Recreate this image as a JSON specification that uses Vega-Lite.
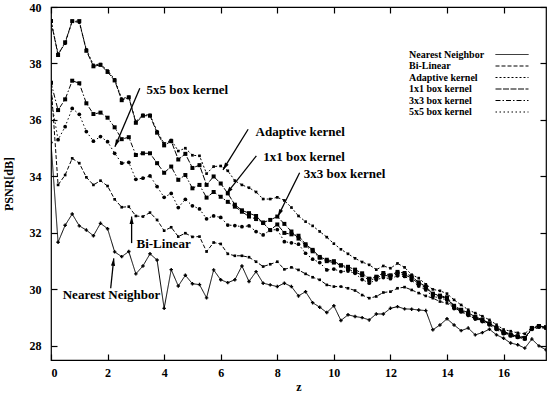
{
"$schema":"https://vega.github.io/schema/vega-lite/v6.json",
"width":495,"height":353,
"autosize":{"type":"none"},
"padding":{"left":51,"top":7,"right":8,"bottom":35},
"background":"#ffffff",
"config":{
"view":{"stroke":"#000","strokeWidth":1.2},
"axis":{"domain":false,"grid":false,"tickColor":"#000","tickWidth":1.2,"tickSize":6,"offset":-6,"labelFont":"Liberation Serif","labelFontWeight":"bold","labelFontSize":12,"labelColor":"#000","titleFont":"Liberation Serif","titleFontWeight":"bold","titleColor":"#000","titleFontSize":12}
},
"datasets":{
"curves":[
{"method":"Nearest Neighbor","z":0,"psnr":35.2},{"method":"Nearest Neighbor","z":0.25,"psnr":31.67},{"method":"Nearest Neighbor","z":0.5,"psnr":32.27},{"method":"Nearest Neighbor","z":0.75,"psnr":32.67},{"method":"Nearest Neighbor","z":1,"psnr":32.25},{"method":"Nearest Neighbor","z":1.25,"psnr":32.1},{"method":"Nearest Neighbor","z":1.5,"psnr":31.9},{"method":"Nearest Neighbor","z":1.75,"psnr":32.34},{"method":"Nearest Neighbor","z":2,"psnr":32.15},{"method":"Nearest Neighbor","z":2.25,"psnr":31.33},{"method":"Nearest Neighbor","z":2.5,"psnr":31.16},{"method":"Nearest Neighbor","z":2.75,"psnr":31.34},{"method":"Nearest Neighbor","z":3,"psnr":30.55},{"method":"Nearest Neighbor","z":3.25,"psnr":30.83},{"method":"Nearest Neighbor","z":3.5,"psnr":31.26},{"method":"Nearest Neighbor","z":3.75,"psnr":31.04},{"method":"Nearest Neighbor","z":4,"psnr":29.33},{"method":"Nearest Neighbor","z":4.25,"psnr":30.7},{"method":"Nearest Neighbor","z":4.5,"psnr":30.12},{"method":"Nearest Neighbor","z":4.75,"psnr":30.5},{"method":"Nearest Neighbor","z":5,"psnr":30.2},{"method":"Nearest Neighbor","z":5.25,"psnr":30.17},{"method":"Nearest Neighbor","z":5.5,"psnr":29.7},{"method":"Nearest Neighbor","z":5.75,"psnr":30.69},{"method":"Nearest Neighbor","z":6,"psnr":30.34},{"method":"Nearest Neighbor","z":6.25,"psnr":30.24},{"method":"Nearest Neighbor","z":6.5,"psnr":30.34},{"method":"Nearest Neighbor","z":6.75,"psnr":30.83},{"method":"Nearest Neighbor","z":7,"psnr":30.28},{"method":"Nearest Neighbor","z":7.25,"psnr":30.63},{"method":"Nearest Neighbor","z":7.5,"psnr":30.22},{"method":"Nearest Neighbor","z":7.75,"psnr":30.16},{"method":"Nearest Neighbor","z":8,"psnr":30.1},{"method":"Nearest Neighbor","z":8.25,"psnr":30.22},{"method":"Nearest Neighbor","z":8.5,"psnr":30.1},{"method":"Nearest Neighbor","z":8.75,"psnr":29.77},{"method":"Nearest Neighbor","z":9,"psnr":29.92},{"method":"Nearest Neighbor","z":9.25,"psnr":29.53},{"method":"Nearest Neighbor","z":9.5,"psnr":29.37},{"method":"Nearest Neighbor","z":9.75,"psnr":29.18},{"method":"Nearest Neighbor","z":10,"psnr":29.42},{"method":"Nearest Neighbor","z":10.25,"psnr":28.9},{"method":"Nearest Neighbor","z":10.5,"psnr":29.1},{"method":"Nearest Neighbor","z":10.75,"psnr":29.04},{"method":"Nearest Neighbor","z":11,"psnr":29.0},{"method":"Nearest Neighbor","z":11.25,"psnr":28.92},{"method":"Nearest Neighbor","z":11.5,"psnr":29.13},{"method":"Nearest Neighbor","z":11.75,"psnr":29.13},{"method":"Nearest Neighbor","z":12,"psnr":29.33},{"method":"Nearest Neighbor","z":12.25,"psnr":29.39},{"method":"Nearest Neighbor","z":12.5,"psnr":29.31},{"method":"Nearest Neighbor","z":12.75,"psnr":29.3},{"method":"Nearest Neighbor","z":13,"psnr":29.27},{"method":"Nearest Neighbor","z":13.25,"psnr":29.25},{"method":"Nearest Neighbor","z":13.5,"psnr":28.57},{"method":"Nearest Neighbor","z":13.75,"psnr":28.74},{"method":"Nearest Neighbor","z":14,"psnr":28.96},{"method":"Nearest Neighbor","z":14.25,"psnr":28.74},{"method":"Nearest Neighbor","z":14.5,"psnr":28.54},{"method":"Nearest Neighbor","z":14.75,"psnr":28.63},{"method":"Nearest Neighbor","z":15,"psnr":28.39},{"method":"Nearest Neighbor","z":15.25,"psnr":28.47},{"method":"Nearest Neighbor","z":15.5,"psnr":28.59},{"method":"Nearest Neighbor","z":15.75,"psnr":28.39},{"method":"Nearest Neighbor","z":16,"psnr":28.27},{"method":"Nearest Neighbor","z":16.25,"psnr":28.1},{"method":"Nearest Neighbor","z":16.5,"psnr":28.04},{"method":"Nearest Neighbor","z":16.75,"psnr":27.92},{"method":"Nearest Neighbor","z":17,"psnr":28.24},{"method":"Nearest Neighbor","z":17.25,"psnr":28.0},{"method":"Nearest Neighbor","z":17.5,"psnr":27.86},
{"method":"Bi-Linear","z":0,"psnr":37.3},{"method":"Bi-Linear","z":0.25,"psnr":33.7},{"method":"Bi-Linear","z":0.5,"psnr":34.05},{"method":"Bi-Linear","z":0.75,"psnr":34.64},{"method":"Bi-Linear","z":1,"psnr":34.47},{"method":"Bi-Linear","z":1.25,"psnr":33.97},{"method":"Bi-Linear","z":1.5,"psnr":33.7},{"method":"Bi-Linear","z":1.75,"psnr":33.85},{"method":"Bi-Linear","z":2,"psnr":33.66},{"method":"Bi-Linear","z":2.25,"psnr":33.19},{"method":"Bi-Linear","z":2.5,"psnr":32.91},{"method":"Bi-Linear","z":2.75,"psnr":32.93},{"method":"Bi-Linear","z":3,"psnr":32.6},{"method":"Bi-Linear","z":3.25,"psnr":32.58},{"method":"Bi-Linear","z":3.5,"psnr":32.72},{"method":"Bi-Linear","z":3.75,"psnr":32.46},{"method":"Bi-Linear","z":4,"psnr":32.08},{"method":"Bi-Linear","z":4.25,"psnr":32.2},{"method":"Bi-Linear","z":4.5,"psnr":31.87},{"method":"Bi-Linear","z":4.75,"psnr":31.99},{"method":"Bi-Linear","z":5,"psnr":31.86},{"method":"Bi-Linear","z":5.25,"psnr":31.87},{"method":"Bi-Linear","z":5.5,"psnr":31.34},{"method":"Bi-Linear","z":5.75,"psnr":31.66},{"method":"Bi-Linear","z":6,"psnr":31.61},{"method":"Bi-Linear","z":6.25,"psnr":31.26},{"method":"Bi-Linear","z":6.5,"psnr":31.19},{"method":"Bi-Linear","z":6.75,"psnr":31.19},{"method":"Bi-Linear","z":7,"psnr":31.14},{"method":"Bi-Linear","z":7.25,"psnr":30.98},{"method":"Bi-Linear","z":7.5,"psnr":30.81},{"method":"Bi-Linear","z":7.75,"psnr":30.89},{"method":"Bi-Linear","z":8,"psnr":30.98},{"method":"Bi-Linear","z":8.25,"psnr":30.71},{"method":"Bi-Linear","z":8.5,"psnr":30.78},{"method":"Bi-Linear","z":8.75,"psnr":30.69},{"method":"Bi-Linear","z":9,"psnr":30.55},{"method":"Bi-Linear","z":9.25,"psnr":30.43},{"method":"Bi-Linear","z":9.5,"psnr":30.34},{"method":"Bi-Linear","z":9.75,"psnr":30.16},{"method":"Bi-Linear","z":10,"psnr":30.1},{"method":"Bi-Linear","z":10.25,"psnr":30.1},{"method":"Bi-Linear","z":10.5,"psnr":30.04},{"method":"Bi-Linear","z":10.75,"psnr":29.96},{"method":"Bi-Linear","z":11,"psnr":29.8},{"method":"Bi-Linear","z":11.25,"psnr":29.69},{"method":"Bi-Linear","z":11.5,"psnr":29.75},{"method":"Bi-Linear","z":11.75,"psnr":29.89},{"method":"Bi-Linear","z":12,"psnr":29.92},{"method":"Bi-Linear","z":12.25,"psnr":30.04},{"method":"Bi-Linear","z":12.5,"psnr":30.08},{"method":"Bi-Linear","z":12.75,"psnr":29.98},{"method":"Bi-Linear","z":13,"psnr":29.87},{"method":"Bi-Linear","z":13.25,"psnr":29.77},{"method":"Bi-Linear","z":13.5,"psnr":29.69},{"method":"Bi-Linear","z":13.75,"psnr":29.57},{"method":"Bi-Linear","z":14,"psnr":29.51},{"method":"Bi-Linear","z":14.25,"psnr":29.36},{"method":"Bi-Linear","z":14.5,"psnr":29.21},{"method":"Bi-Linear","z":14.75,"psnr":29.1},{"method":"Bi-Linear","z":15,"psnr":28.94},{"method":"Bi-Linear","z":15.25,"psnr":28.92},{"method":"Bi-Linear","z":15.5,"psnr":28.8},{"method":"Bi-Linear","z":15.75,"psnr":28.66},{"method":"Bi-Linear","z":16,"psnr":28.51},{"method":"Bi-Linear","z":16.25,"psnr":28.42},{"method":"Bi-Linear","z":16.5,"psnr":28.36},{"method":"Bi-Linear","z":16.75,"psnr":28.31},{"method":"Bi-Linear","z":17,"psnr":28.57},{"method":"Bi-Linear","z":17.25,"psnr":28.65},{"method":"Bi-Linear","z":17.5,"psnr":28.62},
{"method":"Adaptive kernel","z":0,"psnr":39.5},{"method":"Adaptive kernel","z":0.25,"psnr":38.35},{"method":"Adaptive kernel","z":0.5,"psnr":38.7},{"method":"Adaptive kernel","z":0.75,"psnr":39.5},{"method":"Adaptive kernel","z":1,"psnr":39.45},{"method":"Adaptive kernel","z":1.25,"psnr":38.5},{"method":"Adaptive kernel","z":1.5,"psnr":37.95},{"method":"Adaptive kernel","z":1.75,"psnr":37.98},{"method":"Adaptive kernel","z":2,"psnr":37.75},{"method":"Adaptive kernel","z":2.25,"psnr":37.44},{"method":"Adaptive kernel","z":2.5,"psnr":36.75},{"method":"Adaptive kernel","z":2.75,"psnr":36.82},{"method":"Adaptive kernel","z":3,"psnr":35.94},{"method":"Adaptive kernel","z":3.25,"psnr":36.18},{"method":"Adaptive kernel","z":3.5,"psnr":36.18},{"method":"Adaptive kernel","z":3.75,"psnr":35.6},{"method":"Adaptive kernel","z":4,"psnr":35.17},{"method":"Adaptive kernel","z":4.25,"psnr":35.29},{"method":"Adaptive kernel","z":4.5,"psnr":34.9},{"method":"Adaptive kernel","z":4.75,"psnr":35.0},{"method":"Adaptive kernel","z":5,"psnr":34.75},{"method":"Adaptive kernel","z":5.25,"psnr":34.73},{"method":"Adaptive kernel","z":5.5,"psnr":34.1},{"method":"Adaptive kernel","z":5.75,"psnr":34.35},{"method":"Adaptive kernel","z":6,"psnr":34.37},{"method":"Adaptive kernel","z":6.25,"psnr":34.2},{"method":"Adaptive kernel","z":6.5,"psnr":33.85},{"method":"Adaptive kernel","z":6.75,"psnr":33.7},{"method":"Adaptive kernel","z":7,"psnr":33.6},{"method":"Adaptive kernel","z":7.25,"psnr":33.45},{"method":"Adaptive kernel","z":7.5,"psnr":33.2},{"method":"Adaptive kernel","z":7.75,"psnr":33.2},{"method":"Adaptive kernel","z":8,"psnr":33.26},{"method":"Adaptive kernel","z":8.25,"psnr":33.15},{"method":"Adaptive kernel","z":8.5,"psnr":32.9},{"method":"Adaptive kernel","z":8.75,"psnr":32.6},{"method":"Adaptive kernel","z":9,"psnr":32.4},{"method":"Adaptive kernel","z":9.25,"psnr":32.25},{"method":"Adaptive kernel","z":9.5,"psnr":32.05},{"method":"Adaptive kernel","z":9.75,"psnr":31.85},{"method":"Adaptive kernel","z":10,"psnr":31.62},{"method":"Adaptive kernel","z":10.25,"psnr":31.42},{"method":"Adaptive kernel","z":10.5,"psnr":31.26},{"method":"Adaptive kernel","z":10.75,"psnr":31.1},{"method":"Adaptive kernel","z":11,"psnr":30.97},{"method":"Adaptive kernel","z":11.25,"psnr":30.87},{"method":"Adaptive kernel","z":11.5,"psnr":30.7},{"method":"Adaptive kernel","z":11.75,"psnr":30.83},{"method":"Adaptive kernel","z":12,"psnr":30.75},{"method":"Adaptive kernel","z":12.25,"psnr":30.92},{"method":"Adaptive kernel","z":12.5,"psnr":30.78},{"method":"Adaptive kernel","z":12.75,"psnr":30.52},{"method":"Adaptive kernel","z":13,"psnr":30.4},{"method":"Adaptive kernel","z":13.25,"psnr":30.18},{"method":"Adaptive kernel","z":13.5,"psnr":30.0},{"method":"Adaptive kernel","z":13.75,"psnr":29.95},{"method":"Adaptive kernel","z":14,"psnr":29.85},{"method":"Adaptive kernel","z":14.25,"psnr":29.63},{"method":"Adaptive kernel","z":14.5,"psnr":29.45},{"method":"Adaptive kernel","z":14.75,"psnr":29.28},{"method":"Adaptive kernel","z":15,"psnr":29.16},{"method":"Adaptive kernel","z":15.25,"psnr":29.05},{"method":"Adaptive kernel","z":15.5,"psnr":28.92},{"method":"Adaptive kernel","z":15.75,"psnr":28.75},{"method":"Adaptive kernel","z":16,"psnr":28.58},{"method":"Adaptive kernel","z":16.25,"psnr":28.52},{"method":"Adaptive kernel","z":16.5,"psnr":28.46},{"method":"Adaptive kernel","z":16.75,"psnr":28.43},{"method":"Adaptive kernel","z":17,"psnr":28.66},{"method":"Adaptive kernel","z":17.25,"psnr":28.72},{"method":"Adaptive kernel","z":17.5,"psnr":28.66},
{"method":"1x1 box kernel","z":0,"psnr":39.5},{"method":"1x1 box kernel","z":0.25,"psnr":38.3},{"method":"1x1 box kernel","z":0.5,"psnr":38.75},{"method":"1x1 box kernel","z":0.75,"psnr":39.5},{"method":"1x1 box kernel","z":1,"psnr":39.5},{"method":"1x1 box kernel","z":1.25,"psnr":38.45},{"method":"1x1 box kernel","z":1.5,"psnr":37.9},{"method":"1x1 box kernel","z":1.75,"psnr":37.95},{"method":"1x1 box kernel","z":2,"psnr":37.7},{"method":"1x1 box kernel","z":2.25,"psnr":37.4},{"method":"1x1 box kernel","z":2.5,"psnr":36.7},{"method":"1x1 box kernel","z":2.75,"psnr":36.8},{"method":"1x1 box kernel","z":3,"psnr":35.9},{"method":"1x1 box kernel","z":3.25,"psnr":36.15},{"method":"1x1 box kernel","z":3.5,"psnr":36.15},{"method":"1x1 box kernel","z":3.75,"psnr":35.55},{"method":"1x1 box kernel","z":4,"psnr":35.1},{"method":"1x1 box kernel","z":4.25,"psnr":35.25},{"method":"1x1 box kernel","z":4.5,"psnr":34.6},{"method":"1x1 box kernel","z":4.75,"psnr":34.8},{"method":"1x1 box kernel","z":5,"psnr":34.3},{"method":"1x1 box kernel","z":5.25,"psnr":34.4},{"method":"1x1 box kernel","z":5.5,"psnr":33.7},{"method":"1x1 box kernel","z":5.75,"psnr":34.0},{"method":"1x1 box kernel","z":6,"psnr":33.75},{"method":"1x1 box kernel","z":6.25,"psnr":33.4},{"method":"1x1 box kernel","z":6.5,"psnr":33.0},{"method":"1x1 box kernel","z":6.75,"psnr":32.8},{"method":"1x1 box kernel","z":7,"psnr":32.7},{"method":"1x1 box kernel","z":7.25,"psnr":32.6},{"method":"1x1 box kernel","z":7.5,"psnr":32.35},{"method":"1x1 box kernel","z":7.75,"psnr":32.1},{"method":"1x1 box kernel","z":8,"psnr":32.3},{"method":"1x1 box kernel","z":8.25,"psnr":32.0},{"method":"1x1 box kernel","z":8.5,"psnr":31.95},{"method":"1x1 box kernel","z":8.75,"psnr":31.9},{"method":"1x1 box kernel","z":9,"psnr":31.6},{"method":"1x1 box kernel","z":9.25,"psnr":31.4},{"method":"1x1 box kernel","z":9.5,"psnr":31.15},{"method":"1x1 box kernel","z":9.75,"psnr":31.05},{"method":"1x1 box kernel","z":10,"psnr":31.0},{"method":"1x1 box kernel","z":10.25,"psnr":30.85},{"method":"1x1 box kernel","z":10.5,"psnr":30.8},{"method":"1x1 box kernel","z":10.75,"psnr":30.7},{"method":"1x1 box kernel","z":11,"psnr":30.57},{"method":"1x1 box kernel","z":11.25,"psnr":30.38},{"method":"1x1 box kernel","z":11.5,"psnr":30.45},{"method":"1x1 box kernel","z":11.75,"psnr":30.58},{"method":"1x1 box kernel","z":12,"psnr":30.5},{"method":"1x1 box kernel","z":12.25,"psnr":30.62},{"method":"1x1 box kernel","z":12.5,"psnr":30.58},{"method":"1x1 box kernel","z":12.75,"psnr":30.46},{"method":"1x1 box kernel","z":13,"psnr":30.25},{"method":"1x1 box kernel","z":13.25,"psnr":30.1},{"method":"1x1 box kernel","z":13.5,"psnr":29.85},{"method":"1x1 box kernel","z":13.75,"psnr":29.78},{"method":"1x1 box kernel","z":14,"psnr":29.72},{"method":"1x1 box kernel","z":14.25,"psnr":29.42},{"method":"1x1 box kernel","z":14.5,"psnr":29.28},{"method":"1x1 box kernel","z":14.75,"psnr":29.17},{"method":"1x1 box kernel","z":15,"psnr":29.03},{"method":"1x1 box kernel","z":15.25,"psnr":28.93},{"method":"1x1 box kernel","z":15.5,"psnr":28.8},{"method":"1x1 box kernel","z":15.75,"psnr":28.64},{"method":"1x1 box kernel","z":16,"psnr":28.48},{"method":"1x1 box kernel","z":16.25,"psnr":28.4},{"method":"1x1 box kernel","z":16.5,"psnr":28.34},{"method":"1x1 box kernel","z":16.75,"psnr":28.28},{"method":"1x1 box kernel","z":17,"psnr":28.63},{"method":"1x1 box kernel","z":17.25,"psnr":28.7},{"method":"1x1 box kernel","z":17.5,"psnr":28.66},
{"method":"3x3 box kernel","z":0,"psnr":37.32},{"method":"3x3 box kernel","z":0.25,"psnr":36.35},{"method":"3x3 box kernel","z":0.5,"psnr":36.73},{"method":"3x3 box kernel","z":0.75,"psnr":37.39},{"method":"3x3 box kernel","z":1,"psnr":37.3},{"method":"3x3 box kernel","z":1.25,"psnr":36.59},{"method":"3x3 box kernel","z":1.5,"psnr":36.21},{"method":"3x3 box kernel","z":1.75,"psnr":36.26},{"method":"3x3 box kernel","z":2,"psnr":36.08},{"method":"3x3 box kernel","z":2.25,"psnr":35.74},{"method":"3x3 box kernel","z":2.5,"psnr":35.32},{"method":"3x3 box kernel","z":2.75,"psnr":35.39},{"method":"3x3 box kernel","z":3,"psnr":34.76},{"method":"3x3 box kernel","z":3.25,"psnr":34.82},{"method":"3x3 box kernel","z":3.5,"psnr":34.82},{"method":"3x3 box kernel","z":3.75,"psnr":34.47},{"method":"3x3 box kernel","z":4,"psnr":34.13},{"method":"3x3 box kernel","z":4.25,"psnr":34.35},{"method":"3x3 box kernel","z":4.5,"psnr":33.88},{"method":"3x3 box kernel","z":4.75,"psnr":34.05},{"method":"3x3 box kernel","z":5,"psnr":33.58},{"method":"3x3 box kernel","z":5.25,"psnr":33.7},{"method":"3x3 box kernel","z":5.5,"psnr":33.25},{"method":"3x3 box kernel","z":5.75,"psnr":33.45},{"method":"3x3 box kernel","z":6,"psnr":33.28},{"method":"3x3 box kernel","z":6.25,"psnr":33.1},{"method":"3x3 box kernel","z":6.5,"psnr":32.93},{"method":"3x3 box kernel","z":6.75,"psnr":32.75},{"method":"3x3 box kernel","z":7,"psnr":32.58},{"method":"3x3 box kernel","z":7.25,"psnr":32.49},{"method":"3x3 box kernel","z":7.5,"psnr":32.37},{"method":"3x3 box kernel","z":7.75,"psnr":32.46},{"method":"3x3 box kernel","z":8,"psnr":32.58},{"method":"3x3 box kernel","z":8.25,"psnr":32.32},{"method":"3x3 box kernel","z":8.5,"psnr":32.05},{"method":"3x3 box kernel","z":8.75,"psnr":31.8},{"method":"3x3 box kernel","z":9,"psnr":31.55},{"method":"3x3 box kernel","z":9.25,"psnr":31.35},{"method":"3x3 box kernel","z":9.5,"psnr":31.12},{"method":"3x3 box kernel","z":9.75,"psnr":31.0},{"method":"3x3 box kernel","z":10,"psnr":30.95},{"method":"3x3 box kernel","z":10.25,"psnr":30.85},{"method":"3x3 box kernel","z":10.5,"psnr":30.72},{"method":"3x3 box kernel","z":10.75,"psnr":30.62},{"method":"3x3 box kernel","z":11,"psnr":30.5},{"method":"3x3 box kernel","z":11.25,"psnr":30.32},{"method":"3x3 box kernel","z":11.5,"psnr":30.4},{"method":"3x3 box kernel","z":11.75,"psnr":30.52},{"method":"3x3 box kernel","z":12,"psnr":30.45},{"method":"3x3 box kernel","z":12.25,"psnr":30.56},{"method":"3x3 box kernel","z":12.5,"psnr":30.52},{"method":"3x3 box kernel","z":12.75,"psnr":30.4},{"method":"3x3 box kernel","z":13,"psnr":30.2},{"method":"3x3 box kernel","z":13.25,"psnr":30.05},{"method":"3x3 box kernel","z":13.5,"psnr":29.82},{"method":"3x3 box kernel","z":13.75,"psnr":29.75},{"method":"3x3 box kernel","z":14,"psnr":29.68},{"method":"3x3 box kernel","z":14.25,"psnr":29.38},{"method":"3x3 box kernel","z":14.5,"psnr":29.25},{"method":"3x3 box kernel","z":14.75,"psnr":29.13},{"method":"3x3 box kernel","z":15,"psnr":29.0},{"method":"3x3 box kernel","z":15.25,"psnr":28.9},{"method":"3x3 box kernel","z":15.5,"psnr":28.78},{"method":"3x3 box kernel","z":15.75,"psnr":28.62},{"method":"3x3 box kernel","z":16,"psnr":28.46},{"method":"3x3 box kernel","z":16.25,"psnr":28.38},{"method":"3x3 box kernel","z":16.5,"psnr":28.32},{"method":"3x3 box kernel","z":16.75,"psnr":28.26},{"method":"3x3 box kernel","z":17,"psnr":28.62},{"method":"3x3 box kernel","z":17.25,"psnr":28.7},{"method":"3x3 box kernel","z":17.5,"psnr":28.65},
{"method":"5x5 box kernel","z":0,"psnr":36.75},{"method":"5x5 box kernel","z":0.25,"psnr":35.3},{"method":"5x5 box kernel","z":0.5,"psnr":35.76},{"method":"5x5 box kernel","z":0.75,"psnr":36.41},{"method":"5x5 box kernel","z":1,"psnr":36.2},{"method":"5x5 box kernel","z":1.25,"psnr":35.59},{"method":"5x5 box kernel","z":1.5,"psnr":35.25},{"method":"5x5 box kernel","z":1.75,"psnr":35.41},{"method":"5x5 box kernel","z":2,"psnr":35.23},{"method":"5x5 box kernel","z":2.25,"psnr":34.82},{"method":"5x5 box kernel","z":2.5,"psnr":34.47},{"method":"5x5 box kernel","z":2.75,"psnr":34.5},{"method":"5x5 box kernel","z":3,"psnr":33.9},{"method":"5x5 box kernel","z":3.25,"psnr":33.94},{"method":"5x5 box kernel","z":3.5,"psnr":34.02},{"method":"5x5 box kernel","z":3.75,"psnr":33.64},{"method":"5x5 box kernel","z":4,"psnr":33.26},{"method":"5x5 box kernel","z":4.25,"psnr":33.4},{"method":"5x5 box kernel","z":4.5,"psnr":32.9},{"method":"5x5 box kernel","z":4.75,"psnr":33.19},{"method":"5x5 box kernel","z":5,"psnr":32.96},{"method":"5x5 box kernel","z":5.25,"psnr":32.85},{"method":"5x5 box kernel","z":5.5,"psnr":32.5},{"method":"5x5 box kernel","z":5.75,"psnr":32.6},{"method":"5x5 box kernel","z":6,"psnr":32.55},{"method":"5x5 box kernel","z":6.25,"psnr":32.28},{"method":"5x5 box kernel","z":6.5,"psnr":32.26},{"method":"5x5 box kernel","z":6.75,"psnr":32.22},{"method":"5x5 box kernel","z":7,"psnr":32.25},{"method":"5x5 box kernel","z":7.25,"psnr":32.05},{"method":"5x5 box kernel","z":7.5,"psnr":31.93},{"method":"5x5 box kernel","z":7.75,"psnr":32.1},{"method":"5x5 box kernel","z":8,"psnr":32.12},{"method":"5x5 box kernel","z":8.25,"psnr":31.69},{"method":"5x5 box kernel","z":8.5,"psnr":31.65},{"method":"5x5 box kernel","z":8.75,"psnr":31.6},{"method":"5x5 box kernel","z":9,"psnr":31.28},{"method":"5x5 box kernel","z":9.25,"psnr":31.07},{"method":"5x5 box kernel","z":9.5,"psnr":30.95},{"method":"5x5 box kernel","z":9.75,"psnr":30.69},{"method":"5x5 box kernel","z":10,"psnr":30.72},{"method":"5x5 box kernel","z":10.25,"psnr":30.63},{"method":"5x5 box kernel","z":10.5,"psnr":30.65},{"method":"5x5 box kernel","z":10.75,"psnr":30.57},{"method":"5x5 box kernel","z":11,"psnr":30.35},{"method":"5x5 box kernel","z":11.25,"psnr":30.22},{"method":"5x5 box kernel","z":11.5,"psnr":30.34},{"method":"5x5 box kernel","z":11.75,"psnr":30.42},{"method":"5x5 box kernel","z":12,"psnr":30.38},{"method":"5x5 box kernel","z":12.25,"psnr":30.48},{"method":"5x5 box kernel","z":12.5,"psnr":30.46},{"method":"5x5 box kernel","z":12.75,"psnr":30.32},{"method":"5x5 box kernel","z":13,"psnr":30.12},{"method":"5x5 box kernel","z":13.25,"psnr":29.98},{"method":"5x5 box kernel","z":13.5,"psnr":29.75},{"method":"5x5 box kernel","z":13.75,"psnr":29.7},{"method":"5x5 box kernel","z":14,"psnr":29.62},{"method":"5x5 box kernel","z":14.25,"psnr":29.32},{"method":"5x5 box kernel","z":14.5,"psnr":29.2},{"method":"5x5 box kernel","z":14.75,"psnr":29.08},{"method":"5x5 box kernel","z":15,"psnr":28.96},{"method":"5x5 box kernel","z":15.25,"psnr":28.86},{"method":"5x5 box kernel","z":15.5,"psnr":28.74},{"method":"5x5 box kernel","z":15.75,"psnr":28.58},{"method":"5x5 box kernel","z":16,"psnr":28.43},{"method":"5x5 box kernel","z":16.25,"psnr":28.35},{"method":"5x5 box kernel","z":16.5,"psnr":28.3},{"method":"5x5 box kernel","z":16.75,"psnr":28.24},{"method":"5x5 box kernel","z":17,"psnr":28.6},{"method":"5x5 box kernel","z":17.25,"psnr":28.68},{"method":"5x5 box kernel","z":17.5,"psnr":28.64}
],
"labels":[
{"text":"5x5 box kernel","z":4.82,"psnr":37.06},
{"text":"Adaptive kernel","z":8.81,"psnr":35.59},
{"text":"1x1 box kernel","z":8.95,"psnr":34.7},
{"text":"3x3 box kernel","z":10.38,"psnr":34.09},
{"text":"Bi-Linear","z":3.98,"psnr":31.6},
{"text":"Nearest Neighbor","z":2.14,"psnr":29.8}
],
"arrows":[
{"z1":3.14,"p1":37.12,"z2":2.26,"p2":35.05},
{"z1":6.97,"p1":35.67,"z2":6.08,"p2":34.23},
{"z1":7.26,"p1":34.73,"z2":6.2,"p2":33.38},
{"z1":8.79,"p1":34.13,"z2":8.02,"p2":32.58},
{"z1":2.85,"p1":31.64,"z2":2.85,"p2":32.58},
{"z1":2.11,"p1":30.04,"z2":2.22,"p2":31.1}
]
},
"layer":[
{"data":{"name":"curves"},
"mark":{"type":"line","color":"#000","strokeWidth":1,"clip":true},
"encoding":{
"x":{"field":"z","type":"quantitative","scale":{"domain":[0,17.5],"nice":false,"zero":false},"axis":{"values":[0,2,4,6,8,10,12,14,16],"title":"z","labelPadding":7,"titlePadding":3}},
"y":{"field":"psnr","type":"quantitative","scale":{"domain":[27.5,40],"nice":false,"zero":false},"axis":{"values":[28,30,32,34,36,38,40],"title":"PSNR[dB]","labelPadding":10,"titlePadding":14}},
"strokeDash":{"field":"method","type":"nominal","scale":{"domain":["Nearest Neighbor","Bi-Linear","Adaptive kernel","1x1 box kernel","3x3 box kernel","5x5 box kernel"],"range":[[1,0],[4,2],[2,2],[6,1.5],[5,2,1.5,2],[1.5,2.5]]},
"legend":{"title":null,"orient":"none","legendX":455,"legendY":41.5,"symbolType":"M-3,0L3,0","symbolSize":121,"symbolStrokeColor":"#000","symbolStrokeWidth":1,"symbolFillColor":"transparent","labelFont":"Liberation Serif","labelFontWeight":"bold","labelFontSize":10,"labelColor":"#000","labelAlign":"left","labelOffset":-109,"rowPadding":0.5,"labelLimit":300}}
}},
{"data":{"name":"curves"},
"transform":[{"filter":"datum.method === 'Nearest Neighbor'"}],
"mark":{"type":"point","shape":"cross","size":12,"filled":true,"color":"#000","opacity":1,"clip":true},
"encoding":{
"x":{"field":"z","type":"quantitative","axis":{"orient":"top","values":[0,2,4,6,8,10,12,14,16],"labels":false,"title":null}},
"y":{"field":"psnr","type":"quantitative","axis":{"orient":"right","values":[28,30,32,34,36,38,40],"labels":false,"title":null}}
}},
{"data":{"name":"curves"},
"transform":[{"filter":"datum.method === 'Bi-Linear' || datum.method === 'Adaptive kernel'"}],
"mark":{"type":"point","shape":"square","size":7,"filled":true,"color":"#000","opacity":1,"clip":true},
"encoding":{"x":{"field":"z","type":"quantitative","axis":null},"y":{"field":"psnr","type":"quantitative","axis":null}}},
{"data":{"name":"curves"},
"transform":[{"filter":"datum.method === '1x1 box kernel' || datum.method === '3x3 box kernel'"}],
"mark":{"type":"point","shape":"square","size":16,"filled":true,"color":"#000","opacity":1,"clip":true},
"encoding":{"x":{"field":"z","type":"quantitative","axis":null},"y":{"field":"psnr","type":"quantitative","axis":null}}},
{"data":{"name":"curves"},
"transform":[{"filter":"datum.method === '5x5 box kernel'"}],
"mark":{"type":"point","shape":"circle","size":14,"filled":true,"color":"#000","opacity":1,"clip":true},
"encoding":{"x":{"field":"z","type":"quantitative","axis":null},"y":{"field":"psnr","type":"quantitative","axis":null}}},
{"data":{"name":"arrows"},
"mark":{"type":"rule","color":"#000","strokeWidth":1.3},
"encoding":{"x":{"field":"z1","type":"quantitative","axis":null},"y":{"field":"p1","type":"quantitative","axis":null},"x2":{"field":"z2"},"y2":{"field":"p2"}}},
{"data":{"name":"arrows"},
"transform":[{"calculate":"atan2(datum.z2-datum.z1, datum.p2-datum.p1)*180/PI","as":"ang"}],
"mark":{"type":"point","shape":"M0,0L-0.28,1L0.28,1Z","filled":true,"color":"#000","opacity":1,"size":220},
"encoding":{"x":{"field":"z2","type":"quantitative","axis":null},"y":{"field":"p2","type":"quantitative","axis":null},"angle":{"field":"ang","type":"quantitative","scale":null}}},
{"data":{"name":"labels"},
"mark":{"type":"text","font":"Liberation Serif","fontWeight":"bold","fontSize":13,"color":"#000","align":"center","baseline":"middle"},
"encoding":{"x":{"field":"z","type":"quantitative","axis":null},"y":{"field":"psnr","type":"quantitative","axis":null},"text":{"field":"text"}}}
],
"resolve":{"axis":{"x":"independent","y":"independent"}}
}
